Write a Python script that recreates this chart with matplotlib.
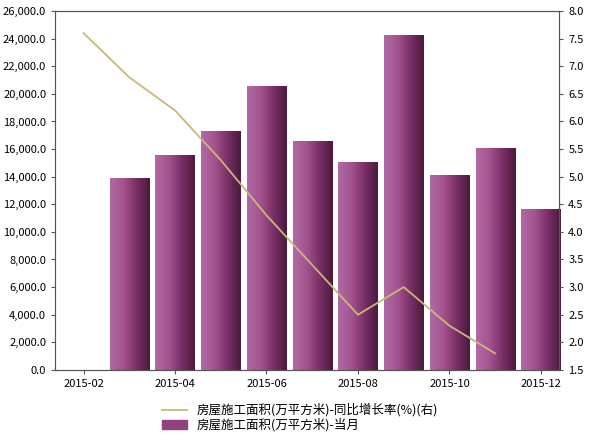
import numpy as np
import matplotlib.pyplot as plt
from matplotlib.ticker import FuncFormatter
from matplotlib.lines import Line2D
from matplotlib.patches import Patch

plt.rcParams['font.family'] = ['Noto Sans CJK SC', 'DejaVu Sans']

months = ['2015-02', '2015-03', '2015-04', '2015-05', '2015-06', '2015-07',
          '2015-08', '2015-09', '2015-10', '2015-11', '2015-12']
area = [np.nan, 13900, 15550, 17300, 20600, 16600, 15100, 24300, 14100, 16100, 11650]
growth = [7.6, 6.8, 6.2, 5.3, 4.3, 3.4, 2.5, 3.0, 2.3, 1.8, np.nan]
line_label = '房屋施工面积(万平方米)-同比增长率(%)(右)'
bar_label = '房屋施工面积(万平方米)-当月'

fig = plt.figure(figsize=(6, 4.43), dpi=100)
ax = fig.add_axes([0.092, 0.165, 0.84, 0.81])
x = np.arange(len(months))

# gradient bars
grad = np.linspace(0, 1, 100).reshape(1, -1)
cmap = plt.matplotlib.colors.LinearSegmentedColormap.from_list(
    'g', ['#b06aa6', '#a4548f', '#7a2f66', '#4a1a3e'])
bars = ax.bar(x, area, width=0.86, color='#9b4f8a')
for b in bars:
    if np.isnan(b.get_height()):
        continue
    x0, w, h = b.get_x(), b.get_width(), b.get_height()
    im = ax.imshow(grad, cmap=cmap, aspect='auto', extent=[x0, x0 + w, 0, h], zorder=2)
    im.set_clip_path(b)
    b.set_alpha(0)

ax.set_xlim(-0.62, 10.4)
ax.set_ylim(0, 26000)
ax.set_yticks(np.arange(0, 26001, 2000))
ax.yaxis.set_major_formatter(FuncFormatter(lambda v, p: f'{v:,.1f}'))
ax.set_xticks(x[::2])
ax.set_xticklabels(months[::2])

ax2 = ax.twinx()
ax2.plot(x, growth, color='#c8b878', lw=1.3)
ax2.set_ylim(1.5, 8.0)
ax2.set_yticks(np.arange(1.5, 8.01, 0.5))
ax2.yaxis.set_major_formatter(FuncFormatter(lambda v, p: f'{v:.1f}'))

for a in (ax, ax2):
    a.tick_params(labelsize=8, color='#555555', direction='out', length=3)
    for s in a.spines.values():
        s.set_color('#555555')

handles = [Line2D([0], [0], color='#c8b878', lw=1.3),
           Patch(color='#8f427c')]
fig.legend(handles, [line_label, bar_label], loc='lower center',
           bbox_to_anchor=(0.5, 0.0), frameon=False, fontsize=9,
           handlelength=2, labelspacing=0.1)

fig.savefig('out.png', dpi=100)
